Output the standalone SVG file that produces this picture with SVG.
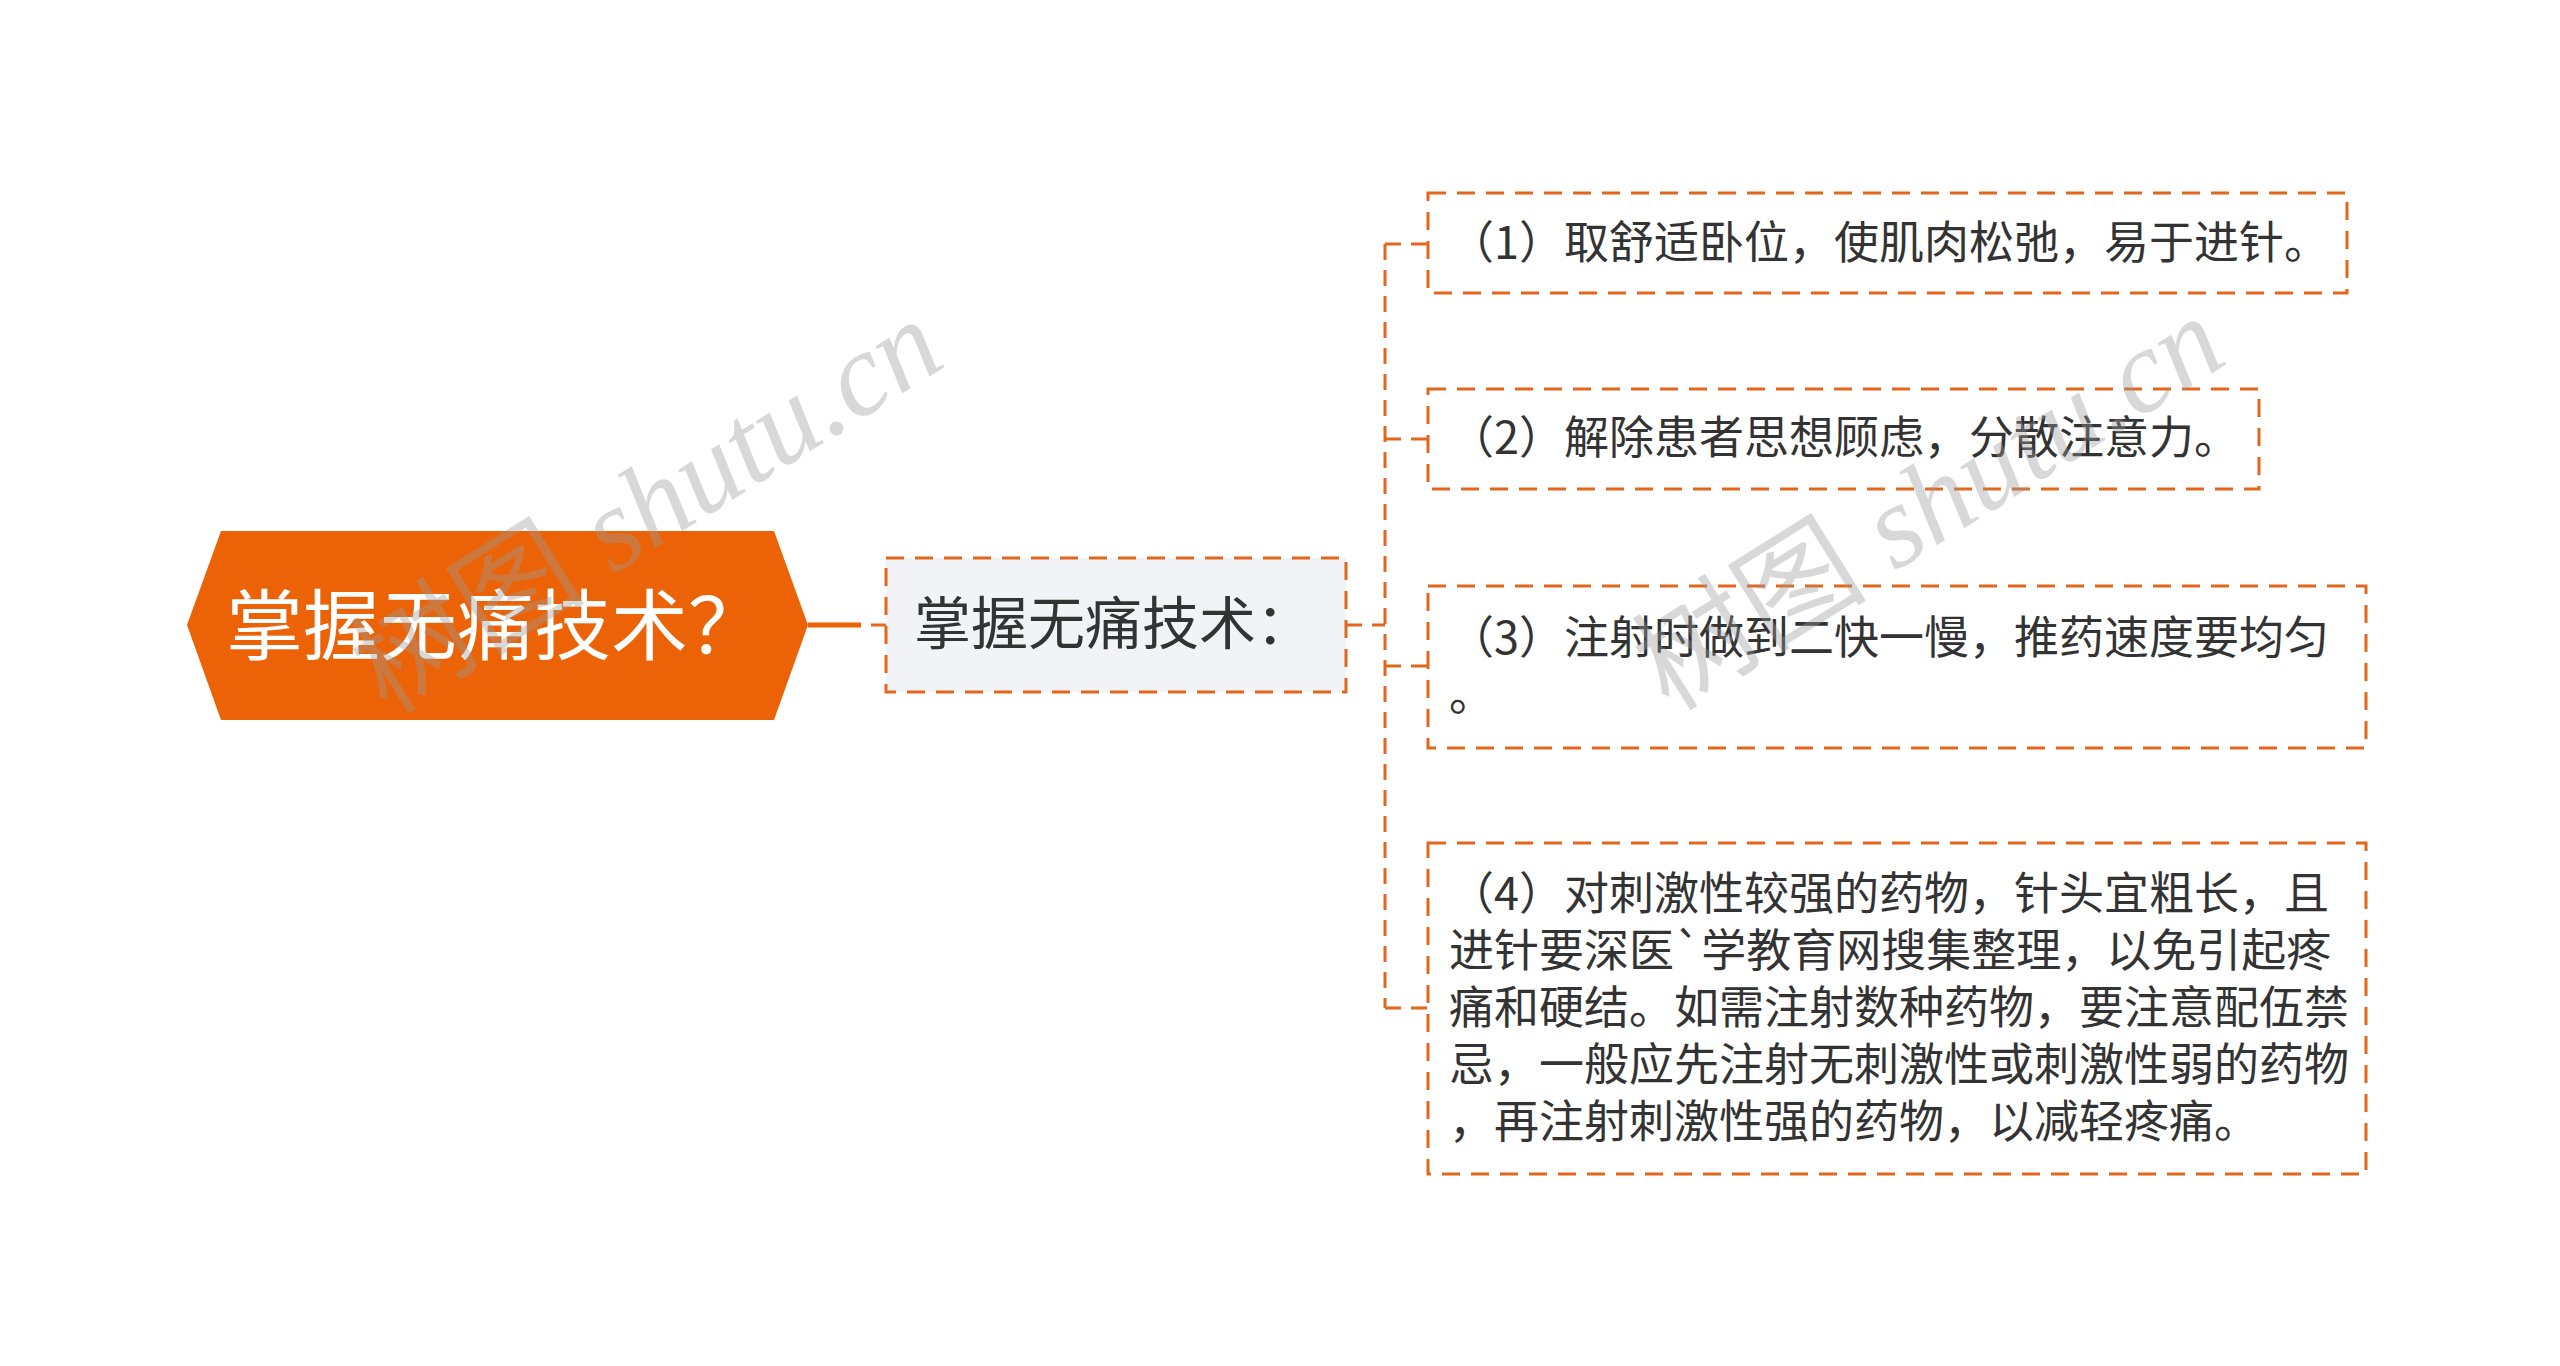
<svg xmlns="http://www.w3.org/2000/svg" width="2560" height="1366" viewBox="0 0 2560 1366">
<style>
.cjk{font-family:"Noto Sans CJK SC","Noto Sans",sans-serif;}
.leaf{fill:#ffffff;stroke:#e2671c;stroke-width:3;stroke-dasharray:18 11;}
.leaftxt{font-size:45px;fill:#333333;}
.conn{fill:none;stroke:#e2671c;stroke-width:3;stroke-dasharray:16 10;}
.wm{font-family:"Liberation Serif",serif;font-style:italic;font-size:118px;fill:#9a9a9a;opacity:0.38;}
.wmc{font-family:"Noto Sans CJK SC",sans-serif;font-style:normal;}
</style>
<rect width="2560" height="1366" fill="#ffffff"/>
<g id="connectors">
  <line x1="808" y1="625" x2="861" y2="625" stroke="#ec6307" stroke-width="5"/>
  <line x1="871" y1="625" x2="886" y2="625" stroke="#e2671c" stroke-width="3"/>
  <path class="conn" d="M1346,625 H1385 M1385,244 V1008 M1385,244 H1428 M1385,439 H1428 M1385,666 H1428 M1385,1008 H1428"/>
</g>
<g id="root">
  <polygon points="187,625 221,531 774,531 808,625 774,720 221,720" fill="#ec6307"/>
  <text class="cjk" x="226" y="654" font-size="77" fill="#ffffff">掌握无痛技术？</text>
</g>
<g id="sub">
  <rect x="886" y="558" width="460" height="134" fill="#f1f3f6" stroke="#e2671c" stroke-width="3" stroke-dasharray="18 11"/>
  <text class="cjk" x="914" y="644" font-size="57" fill="#333333">掌握无痛技术：</text>
</g>
<g id="leaf1">
  <rect class="leaf" x="1428" y="193" width="919" height="100"/>
  <text class="cjk leaftxt" x="1449" y="259">（1）取舒适卧位，使肌肉松弛，易于进针。</text>
</g>
<g id="leaf2">
  <rect class="leaf" x="1428" y="389" width="831" height="100"/>
  <text class="cjk leaftxt" x="1449" y="454">（2）解除患者思想顾虑，分散注意力。</text>
</g>
<g id="leaf3">
  <rect class="leaf" x="1428" y="586" width="938" height="162"/>
  <text class="cjk leaftxt" x="1449" y="654">（3）注射时做到二快一慢，推药速度要均匀<tspan x="1449" y="711">。</tspan></text>
</g>
<g id="leaf4">
  <rect class="leaf" x="1428" y="843" width="938" height="331"/>
  <text class="cjk leaftxt" x="1449" y="910">（4）对刺激性较强的药物，针头宜粗长，且<tspan x="1449" y="967">进针要深医`学教育网搜集整理，以免引起疼</tspan><tspan x="1449" y="1024">痛和硬结。如需注射数种药物，要注意配伍禁</tspan><tspan x="1449" y="1081">忌，一般应先注射无刺激性或刺激性弱的药物</tspan><tspan x="1449" y="1138">，再注射刺激性强的药物，以减轻疼痛。</tspan></text>
</g>
<g id="watermarks">
  <text class="wm" x="668" y="540" text-anchor="middle" transform="rotate(-32 668 540)"><tspan class="wmc">树图</tspan> shutu.cn</text>
  <text class="wm" x="1950" y="537" text-anchor="middle" transform="rotate(-32 1950 537)"><tspan class="wmc">树图</tspan> shutu.cn</text>
</g>
</svg>
